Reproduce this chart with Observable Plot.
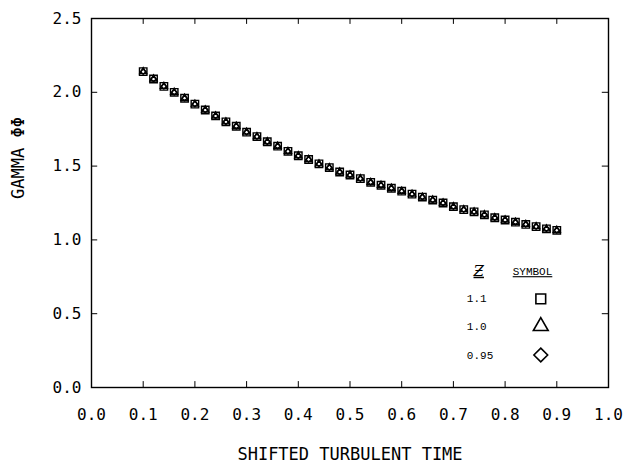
<!DOCTYPE html>
<html><head><meta charset="utf-8">
<script src="https://cdn.jsdelivr.net/npm/d3@7"></script>
<script src="https://cdn.jsdelivr.net/npm/@observablehq/plot@0.6"></script>
<style>body{margin:0;background:#fff} #chart{width:632px;height:475px}</style>
</head><body><div id="chart"></div>
<script>
const xTicks = [0.0, 0.1, 0.2, 0.3, 0.4, 0.5, 0.6, 0.7, 0.8, 0.9, 1.0];
const yTicks = [0.0, 0.5, 1.0, 1.5, 2.0, 2.5];
const innerXTicks = [0.1, 0.2, 0.3, 0.4, 0.5, 0.6, 0.7, 0.8, 0.9];
const innerYTicks = [0.5, 1.0, 1.5, 2.0];
const xLabel = "SHIFTED TURBULENT TIME";
const yLabel = "GAMMA ΦΦ";
const legendTitle = "Ƶ";
const legendHeader = "SYMBOL";
const legendValues = ["1.1", "1.0", "0.95"];
const legendSymbols = ["square", "triangle", "diamond2"];

const times = [0.10, 0.12, 0.14, 0.16, 0.18, 0.20, 0.22, 0.24, 0.26, 0.28,
  0.30, 0.32, 0.34, 0.36, 0.38, 0.40, 0.42, 0.44, 0.46, 0.48,
  0.50, 0.52, 0.54, 0.56, 0.58, 0.60, 0.62, 0.64, 0.66, 0.68,
  0.70, 0.72, 0.74, 0.76, 0.78, 0.80, 0.82, 0.84, 0.86, 0.88, 0.90];
const gamma110 = [2.14, 2.09, 2.04, 2.00, 1.96, 1.92, 1.88, 1.84, 1.80, 1.77,
  1.73, 1.70, 1.665, 1.635, 1.60, 1.57, 1.545, 1.515, 1.49, 1.46,
  1.44, 1.415, 1.39, 1.37, 1.35, 1.33, 1.31, 1.29, 1.27, 1.25,
  1.225, 1.205, 1.19, 1.17, 1.15, 1.135, 1.12, 1.105, 1.09, 1.075, 1.065];
const gamma100 = [2.14, 2.09, 2.04, 2.00, 1.96, 1.92, 1.88, 1.84, 1.80, 1.77,
  1.73, 1.70, 1.665, 1.635, 1.60, 1.57, 1.545, 1.515, 1.49, 1.46,
  1.44, 1.415, 1.39, 1.37, 1.35, 1.33, 1.31, 1.29, 1.27, 1.25,
  1.225, 1.205, 1.19, 1.17, 1.15, 1.135, 1.12, 1.105, 1.09, 1.075, 1.065];
const gamma095 = [2.14, 2.09, 2.04, 2.00, 1.96, 1.92, 1.88, 1.84, 1.80, 1.77,
  1.73, 1.70, 1.665, 1.635, 1.60, 1.57, 1.545, 1.515, 1.49, 1.46,
  1.44, 1.415, 1.39, 1.37, 1.35, 1.33, 1.31, 1.29, 1.27, 1.25,
  1.225, 1.205, 1.19, 1.17, 1.15, 1.135, 1.12, 1.105, 1.09, 1.075, 1.065];

const series = [gamma110, gamma100, gamma095];
const legendRows = legendValues.map((v, i) => ({label: v, symbol: legendSymbols[i], y: [0.60, 0.415, 0.22][i], r: [5.5, 5.5, 6.2][i]}));

const mono = "DejaVu Sans Mono, Liberation Mono, monospace";
const small = "Liberation Mono, monospace";
const marks = [
  Plot.frame({stroke: "black", strokeWidth: 1.4}),
  Plot.ruleX(innerXTicks, {x: d => d, y1: 0, y2: 0.04, stroke: "black", strokeWidth: 1}),
  Plot.ruleX(innerXTicks, {x: d => d, y1: 2.46, y2: 2.5, stroke: "black", strokeWidth: 1}),
  Plot.ruleY(innerYTicks, {y: d => d, x1: 0, x2: 0.012, stroke: "black", strokeWidth: 1}),
  Plot.ruleY(innerYTicks, {y: d => d, x1: 0.988, x2: 1, stroke: "black", strokeWidth: 1}),
  Plot.axisX(xTicks, {tickSize: 0, tickPadding: 21, tickFormat: d3.format(".1f"), fontSize: 16, fontFamily: mono, fill: "black", label: null}),
  Plot.axisY(yTicks, {tickSize: 0, tickPadding: 10, tickFormat: d3.format(".1f"), fontSize: 16, fontFamily: mono, fill: "black", label: null}),
  Plot.text([xLabel], {text: d => d, frameAnchor: "bottom", dy: 72, fontSize: 17, fontFamily: mono, fill: "black"}),
  Plot.text([yLabel], {text: d => d, frameAnchor: "left", rotate: -90, dx: -73, dy: -4, fontSize: 17, fontFamily: mono, fill: "black"}),
];
const dataRadius = [4.2, 2.6, 2.4];
legendSymbols.forEach((s, i) => {
  marks.push(Plot.dot(times.map((t, j) => ({t, g: series[i][j]})), {
    x: "t", y: "g", symbol: s, r: dataRadius[i], stroke: "black", strokeWidth: 1.4, fill: "none"
  }));
});
marks.push(
  Plot.text([legendTitle], {text: d => d, x: 0.749, y: 0.79, fontSize: 15, fontStyle: "italic", fontFamily: "DejaVu Serif, serif", fill: "black"}),
  Plot.text([legendHeader], {text: d => d, x: 0.853, y: 0.785, fontSize: 11, fontFamily: small, fill: "black"}),
  Plot.text(legendRows, {text: "label", x: 0.726, y: "y", textAnchor: "start", fontSize: 11, fontFamily: small, fill: "black"}),
  Plot.dot(legendRows, {x: 0.869, y: "y", symbol: "symbol", r: "r", stroke: "black", strokeWidth: 1.6, fill: "none"})
);

const chart = Plot.plot({
  width: 632, height: 475,
  marginLeft: 91, marginRight: 24, marginTop: 18, marginBottom: 88,
  x: {domain: [0, 1]},
  y: {domain: [0, 2.5]},
  r: {type: "identity"},
  style: {background: "white", color: "black", fontFamily: mono},
  marks
});
d3.select(chart).selectAll("text").filter(function() { return this.textContent === legendHeader || this.textContent === legendTitle; })
  .attr("text-decoration", "underline");
document.getElementById("chart").appendChild(chart);
</script>
</body></html>
